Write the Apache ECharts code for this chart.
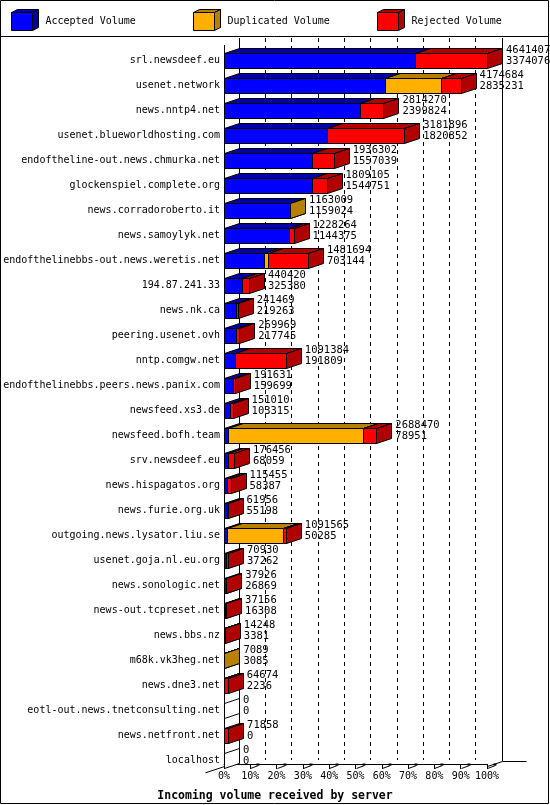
<!DOCTYPE html>
<html>
<head>
<meta charset="utf-8">
<script src="https://cdn.jsdelivr.net/npm/echarts@6/dist/echarts.min.js"></script>
<style>
html,body{margin:0;padding:0;background:#fff;}
#chart{width:550px;height:805px;}
</style>
</head>
<body>
<div id="chart"></div>
<script>
const categories = [
  'srl.newsdeef.eu','usenet.network','news.nntp4.net','usenet.blueworldhosting.com',
  'endoftheline-out.news.chmurka.net','glockenspiel.complete.org','news.corradoroberto.it',
  'news.samoylyk.net','endofthelinebbs-out.news.weretis.net','194.87.241.33','news.nk.ca',
  'peering.usenet.ovh','nntp.comgw.net','endofthelinebbs.peers.news.panix.com','newsfeed.xs3.de',
  'newsfeed.bofh.team','srv.newsdeef.eu','news.hispagatos.org','news.furie.org.uk',
  'outgoing.news.lysator.liu.se','usenet.goja.nl.eu.org','news.sonologic.net','news-out.tcpreset.net',
  'news.bbs.nz','m68k.vk3heg.net','news.dne3.net','eotl-out.news.tnetconsulting.net',
  'news.netfront.net','localhost'
];
const totalVolume = [4641407,4174684,2814270,3181896,1936302,1809105,1163009,1228264,1481694,440420,
  241469,269969,1091384,191631,151010,2688470,176456,115455,61956,1091565,70930,37926,37156,14248,
  7089,64674,0,71858,0];
const acceptedVolume = [3374076,2835231,2399824,1820852,1557039,1544751,1159024,1144375,703144,325380,
  219263,217745,191809,159699,103315,78951,68059,58387,55198,50285,37262,26869,16308,3381,
  3085,2236,0,0,0];
const duplicatedVolume = [0,995000,0,0,0,0,3985,0,70000,0,
  0,0,0,0,0,2379000,0,0,0,996000,0,0,0,0,
  4004,0,0,0,0];
const rejectedVolume = [1267331,344453,414446,1361044,379263,264354,0,83889,708550,115040,
  22206,52224,899575,31932,47695,230519,108397,57068,6758,45280,33668,11057,20848,10867,
  0,62438,0,71858,0];
const seriesNames = ['Accepted Volume','Duplicated Volume','Rejected Volume'];
const tickPercents = [0,10,20,30,40,50,60,70,80,90,100];
const axisTitle = 'Incoming volume received by server';

const FONT = '"DejaVu Sans Mono", "Liberation Mono", monospace';
const COLORS = [
  {front:'#0000ff', dark:'#0000a8'},
  {front:'#ffb000', dark:'#b88000'},
  {front:'#ff0000', dark:'#b00000'}
];
const DX = 15, DY = 5, BAR_H = 15;
const N = categories.length;
const MAXT = Math.max(...totalVolume);
const R = v => Math.round(v) + 0.5;

// build segment data (stacking)
const segData = [[],[],[]];
for (let i = 0; i < N; i++) {
  const a = acceptedVolume[i], d = duplicatedVolume[i], r = rejectedVolume[i];
  segData[0].push([i, 0, a]);
  segData[1].push([i, a, a + d]);
  segData[2].push([i, a + d, a + d + r]);
}
const labelData = categories.map((c, i) => [i, totalVolume[i], acceptedVolume[i]]);

function boxRender(k) {
  const col = COLORS[k];
  return function (params, api) {
    const i = api.value(0), s = api.value(1), e = api.value(2);
    if (!(e > s)) return null;
    const p0 = api.coord([s, i]), p1 = api.coord([e, i]);
    const x0 = R(p0[0]), x1 = R(p1[0]);
    const t = R(p0[1] - BAR_H / 2), b = R(p0[1] + BAR_H / 2);
    const st = {stroke:'#000', lineWidth:1};
    return {type:'group', children:[
      {type:'polygon', shape:{points:[[x0,t],[x1,t],[x1+DX,t-DY],[x0+DX,t-DY]]},
        style:Object.assign({fill:col.dark}, st)},
      {type:'polygon', shape:{points:[[x1,t],[x1+DX,t-DY],[x1+DX,b-DY],[x1,b]]},
        style:Object.assign({fill:col.dark}, st)},
      {type:'rect', shape:{x:x0, y:t, width:x1-x0, height:b-t},
        style:Object.assign({fill:col.front}, st)}
    ]};
  };
}

function labelRender(params, api) {
  const i = api.value(0), tot = api.value(1), acc = api.value(2);
  const p = api.coord([tot, i]);
  const x1 = R(p[0]);
  const t = R(p[1] - BAR_H / 2), b = R(p[1] + BAR_H / 2);
  const children = [];
  if (tot === 0) {
    children.push({type:'polygon', shape:{points:[[x1,t],[x1+DX,t-DY],[x1+DX,b-DY],[x1,b]]},
      style:{fill:'#fff', stroke:'#000', lineWidth:1}});
  }
  children.push({type:'text', x: p[0] + DX + 4, y: p[1] - 5,
    style:{text: tot + '\n' + acc, fill:'#000', font:'10.5px ' + FONT, lineHeight:11,
      align:'left', verticalAlign:'middle'}});
  return {type:'group', children};
}

function frameRender(params, api) {
  const tl = api.coord([0, 0]);
  const br = api.coord([MAXT, N - 1]);
  const xl = R(tl[0]), xr = R(br[0]);
  const yTop = Math.round(tl[1] - 16);
  const yFloor = Math.round(br[1] + 5) + 0.5;
  const L = (x1,y1,x2,y2,w) => ({type:'line', shape:{x1,y1,x2,y2}, style:{stroke:'#000', lineWidth:w||1}});
  const ch = [
    L(xl, yTop, xl, yFloor),
    L(xl+DX, yTop-DY, xl+DX, yFloor-DY),
    L(xr+DX, yTop-DY, xr+DX, yFloor-DY),
    L(xr, yFloor, xr+DX, yFloor-DY),
    L(xr+DX, yFloor-DY, xr+DX+24, yFloor-DY),
    L(xl-19, yFloor+19/3, xl, yFloor)
  ];
  for (let k = 1; k < tickPercents.length; k++) {
    const x = R(api.coord([MAXT * tickPercents[k] / 100, 0])[0]);
    ch.push(L(x, yFloor+2, x+8, yFloor-1, 1));
    ch.push({type:'rect', shape:{x:x+6, y:yFloor-3, width:3, height:2}, style:{fill:'#000'}});
  }
  return {type:'group', children: ch};
}

const legendGraphics = [];
const legendX = [10.5, 193, 376.5];
for (let k = 0; k < 3; k++) {
  const x = Math.round(legendX[k]) + 0.5, c = COLORS[k];
  legendGraphics.push(
    {type:'polygon', shape:{points:[[x,12.5],[x+21,12.5],[x+27,9.5],[x+6,9.5]]}, style:{fill:c.dark, stroke:'#000', lineWidth:1}},
    {type:'polygon', shape:{points:[[x+21,12.5],[x+27,9.5],[x+27,27.5],[x+21,30.5]]}, style:{fill:c.dark, stroke:'#000', lineWidth:1}},
    {type:'rect', shape:{x:x, y:12.5, width:21, height:18}, style:{fill:c.front, stroke:'#000', lineWidth:1}},
    {type:'text', x: x + 34, y: 21, style:{text: seriesNames[k], fill:'#000', font:'10px ' + FONT, verticalAlign:'middle', align:'left'}}
  );
}

const chart = echarts.init(document.getElementById('chart'), null, {renderer:'canvas'});
chart.setOption({
  animation:false,
  backgroundColor:'#fff',
  title:{text:axisTitle, left:'center', top:785,
    textStyle:{fontFamily:FONT, fontSize:11.5, fontWeight:'bold', color:'#000'}},
  grid:[
    {left:224, right:63, top:48, height:725},
    {left:239, right:48, top:38, bottom:45}
  ],
  xAxis:[
    {gridIndex:0, type:'value', min:0, max:MAXT, interval:MAXT/10, offset:-9,
      axisLine:{show:true, lineStyle:{color:'#000', width:1}},
      axisTick:{show:true, length:5, lineStyle:{color:'#000'}},
      axisLabel:{margin:7, fontFamily:FONT, fontSize:10, color:'#000',
        formatter: v => tickPercents[Math.round(v / MAXT * 10)] + '%'},
      splitLine:{show:false}},
    {gridIndex:1, type:'value', min:0, max:MAXT, interval:MAXT/10,
      axisLine:{show:false}, axisTick:{show:false}, axisLabel:{show:false},
      splitLine:{show:true, lineStyle:{color:'#000', width:1, type:[4,4]}}}
  ],
  yAxis:[
    {gridIndex:0, type:'category', data:categories, inverse:true,
      axisLine:{show:false}, axisTick:{show:false},
      axisLabel:{interval:0, margin:4, fontFamily:FONT, fontSize:10, color:'#000'}},
    {gridIndex:1, type:'value', show:false}
  ],
  series:[
    {type:'custom', name:'frame', xAxisIndex:0, yAxisIndex:0, data:[[0,0]],
      encode:{x:1, y:0}, renderItem: frameRender, silent:true},
    {type:'custom', name:seriesNames[0], xAxisIndex:0, yAxisIndex:0, data:segData[0],
      encode:{x:[1,2], y:0}, renderItem: boxRender(0)},
    {type:'custom', name:seriesNames[1], xAxisIndex:0, yAxisIndex:0, data:segData[1],
      encode:{x:[1,2], y:0}, renderItem: boxRender(1)},
    {type:'custom', name:seriesNames[2], xAxisIndex:0, yAxisIndex:0, data:segData[2],
      encode:{x:[1,2], y:0}, renderItem: boxRender(2)},
    {type:'custom', name:'labels', xAxisIndex:0, yAxisIndex:0, data:labelData,
      encode:{x:1, y:0}, renderItem: labelRender}
  ],
  graphic:[
    {type:'rect', shape:{x:0.5, y:0.5, width:548, height:803}, style:{fill:null, stroke:'#000', lineWidth:1}, z:100},
    {type:'line', shape:{x1:0, y1:36.5, x2:549, y2:36.5}, style:{stroke:'#000', lineWidth:1}, z:100}
  ].concat(legendGraphics)
});
</script>
</body>
</html>
